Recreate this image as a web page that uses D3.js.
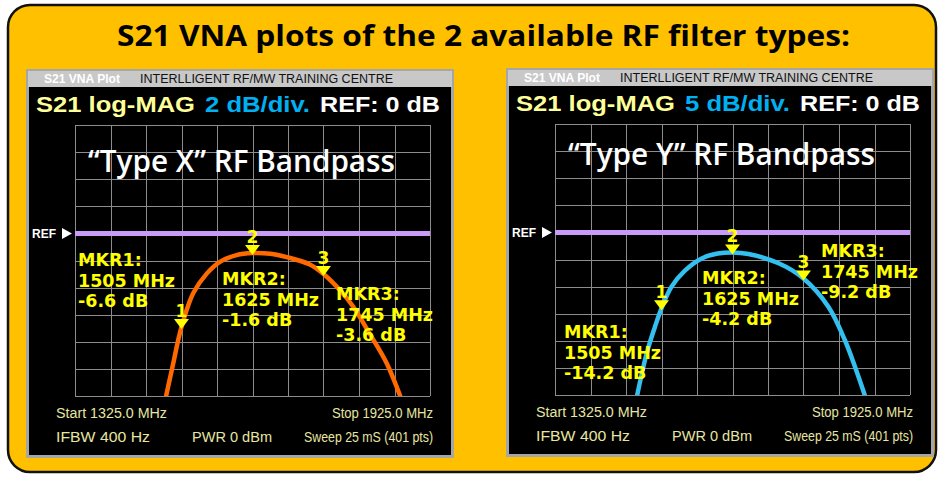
<!DOCTYPE html>
<html>
<head>
<meta charset="utf-8">
<script src="https://cdn.jsdelivr.net/npm/d3@7"></script>
<style>
  html, body { margin: 0; padding: 0; background: #ffffff; }
  svg { display: block; }
</style>
</head>
<body>
<div id="chart"></div>
<script>
const width = 941;
const height = 478;

// ---- data ----
const pageTitle = "S21 VNA plots of the 2 available RF filter types:";
const startMHz = 1325;
const stopMHz = 1925;
const gridFreqs = [1325, 1385, 1445, 1505, 1565, 1625, 1685, 1745, 1805, 1865, 1925];
const markerNames = ["1", "2", "3"];
const markerFreqs = [1505, 1625, 1745];

const typeXGridDb = [8, 6, 4, 2, 0, -2, -4, -6, -8, -10, -12];
const typeXFreqs = [1476, 1490, 1505, 1525, 1548, 1570, 1598, 1625, 1655, 1683, 1722, 1745, 1773, 1795, 1823, 1852, 1878];
const typeXDb = [-12.6, -9.8, -6.9, -4.4, -2.95, -2.1, -1.6, -1.45, -1.5, -1.75, -2.3, -3.0, -4.2, -5.4, -7.4, -9.6, -12.4];
const typeXMarkerDb = [-6.6, -1.6, -3.6];

const typeYGridDb = [20, 15, 10, 5, 0, -5, -10, -15, -20, -25, -30];
const typeYFreqs = [1463, 1480, 1494, 1505, 1522, 1545, 1573, 1600, 1625, 1652, 1703, 1745, 1787, 1815, 1832, 1850];
const typeYDb = [-30.5, -22.3, -17.4, -14.0, -10.0, -7.0, -4.8, -3.9, -3.7, -4.0, -5.7, -8.5, -13.7, -19.9, -24.8, -30.5];
const typeYMarkerDb = [-14.2, -4.2, -9.2];

const footerStart = "Start 1325.0 MHz";
const footerStop = "Stop 1925.0 MHz";
const footerIfbw = "IFBW 400 Hz";
const footerPwr = "PWR 0 dBm";
const footerSweep = "Sweep 25 mS (401 pts)";

// ---- layout ----
const panelW = 428;
const panelH = 389;
const grid = { left: 49, right: 404, top: 56, bottom: 327 };

const panels = [
  {
    id: "x",
    x: 26,
    y: 69,
    scaleText: "2 dB/div.",
    name: "\u201CType X\u201D RF Bandpass",
    nameY: 103,
    gridDb: typeXGridDb,
    freqs: typeXFreqs,
    db: typeXDb,
    markerDb: typeXMarkerDb,
    color: "#ff6a00",
    labelPos: [
      { x: 52, y: 197 },
      { x: 196, y: 216 },
      { x: 310, y: 231 },
    ],
  },
  {
    id: "y",
    x: 506,
    y: 68,
    scaleText: "5 dB/div.",
    name: "\u201CType Y\u201D RF Bandpass",
    nameY: 97,
    gridDb: typeYGridDb,
    freqs: typeYFreqs,
    db: typeYDb,
    markerDb: typeYMarkerDb,
    color: "#33bff0",
    labelPos: [
      { x: 58, y: 270 },
      { x: 196, y: 216 },
      { x: 315, y: 189 },
    ],
  },
];

let svg;

function createChart() {
  createSvg();
  createBackground();
  panels.forEach((p) => createPanel(p));
}

function createSvg() {
  svg = d3
    .select("#chart")
    .append("svg")
    .attr("width", width)
    .attr("height", height);
}

function createBackground() {
  svg
    .append("rect")
    .attr("x", 8)
    .attr("y", 5)
    .attr("width", 928)
    .attr("height", 467)
    .attr("rx", 22)
    .attr("fill", "#ffc000")
    .attr("stroke", "#111")
    .attr("stroke-width", 2.5);

  svg
    .append("text")
    .attr("x", 117)
    .attr("y", 46)
    .attr("textLength", 733)
    .attr("lengthAdjust", "spacingAndGlyphs")
    .style("font-family", "'Open Sans', sans-serif")
    .style("font-weight", 700)
    .style("font-size", "29px")
    .attr("fill", "#000")
    .text(pageTitle);
}

function createPanel(p) {
  const g = svg
    .append("g")
    .attr("transform", `translate(${p.x},${p.y})`);

  // frame, header bar, screen
  g.append("rect")
    .attr("width", panelW)
    .attr("height", panelH)
    .attr("fill", "#a6a6a6");
  g.append("rect")
    .attr("x", 2)
    .attr("y", 2)
    .attr("width", panelW - 4)
    .attr("height", 16)
    .attr("fill", "#c8c8c8");
  g.append("rect")
    .attr("x", 3)
    .attr("y", 18)
    .attr("width", panelW - 6)
    .attr("height", panelH - 21)
    .attr("fill", "#000");

  g.append("text")
    .attr("x", 18)
    .attr("y", 14)
    .attr("textLength", 76)
    .attr("lengthAdjust", "spacingAndGlyphs")
    .style("font-family", "'Liberation Sans', Arial, sans-serif")
    .style("font-weight", 700)
    .style("font-size", "12px")
    .attr("fill", "#ffffff")
    .text("S21 VNA Plot");
  g.append("text")
    .attr("x", 114)
    .attr("y", 14)
    .attr("textLength", 253)
    .attr("lengthAdjust", "spacingAndGlyphs")
    .style("font-family", "'Liberation Sans', Arial, sans-serif")
    .style("font-size", "12px")
    .attr("fill", "#111")
    .text("INTERLLIGENT RF/MW TRAINING CENTRE");

  // headline
  const head = [
    { t: "S21 log-MAG", x: 10, len: 159, c: "#ffff99" },
    { t: p.scaleText, x: 179, len: 105, c: "#00b0f0" },
    { t: "REF: 0 dB", x: 294, len: 120, c: "#ffffff" },
  ];
  g.selectAll(".head")
    .data(head)
    .enter()
    .append("text")
    .classed("head", true)
    .attr("x", (d) => d.x)
    .attr("y", 43)
    .attr("textLength", (d) => d.len)
    .attr("lengthAdjust", "spacingAndGlyphs")
    .style("font-family", "'Liberation Sans', Arial, sans-serif")
    .style("font-weight", 700)
    .style("font-size", "22px")
    .attr("fill", (d) => d.c)
    .text((d) => d.t);

  // scales
  const x = d3
    .scaleLinear()
    .domain([startMHz, stopMHz])
    .range([grid.left, grid.right]);
  const y = d3
    .scaleLinear()
    .domain([d3.min(p.gridDb), d3.max(p.gridDb)])
    .range([grid.bottom, grid.top]);

  // grid
  g.append("g")
    .selectAll("line")
    .data(gridFreqs)
    .enter()
    .append("line")
    .attr("x1", (d) => Math.round(x(d)) + 0.5)
    .attr("x2", (d) => Math.round(x(d)) + 0.5)
    .attr("y1", grid.top)
    .attr("y2", grid.bottom)
    .attr("stroke", "#8c8c8c")
    .attr("stroke-width", 1);
  g.append("g")
    .selectAll("line")
    .data(p.gridDb)
    .enter()
    .append("line")
    .attr("x1", grid.left)
    .attr("x2", grid.right)
    .attr("y1", (d) => Math.round(y(d)) + 0.5)
    .attr("y2", (d) => Math.round(y(d)) + 0.5)
    .attr("stroke", "#8c8c8c")
    .attr("stroke-width", 1);

  // filter name
  g.append("text")
    .attr("x", 62)
    .attr("y", p.nameY)
    .attr("textLength", 307)
    .attr("lengthAdjust", "spacingAndGlyphs")
    .style("font-family", "'Open Sans', sans-serif")
    .style("font-weight", 600)
    .style("font-size", "30px")
    .attr("fill", "#ffffff")
    .text(p.name);

  // reference line
  g.append("line")
    .attr("x1", grid.left)
    .attr("x2", grid.right)
    .attr("y1", y(0))
    .attr("y2", y(0))
    .attr("stroke", "#c89cf6")
    .attr("stroke-width", 5);
  g.append("text")
    .attr("x", 6)
    .attr("y", y(0) + 5)
    .style("font-family", "'Liberation Sans', Arial, sans-serif")
    .style("font-weight", 700)
    .style("font-size", "12px")
    .attr("fill", "#ffffff")
    .text("REF");
  g.append("path")
    .attr("d", `M36,${y(0) - 5.5}L46,${y(0)}L36,${y(0) + 5.5}Z`)
    .attr("fill", "#ffffff");

  // trace
  g.append("clipPath")
    .attr("id", "clip-" + p.id)
    .append("rect")
    .attr("x", grid.left)
    .attr("y", grid.top)
    .attr("width", grid.right - grid.left)
    .attr("height", grid.bottom - grid.top);

  const trace = p.freqs.map((f, i) => ({ f: f, db: p.db[i] }));
  g.append("path")
    .datum(trace)
    .attr("clip-path", `url(#clip-${p.id})`)
    .attr("fill", "none")
    .attr("stroke", p.color)
    .attr("stroke-width", 4.5)
    .attr("d", d3.line().curve(d3.curveCatmullRom).x((d) => x(d.f)).y((d) => y(d.db)));

  // markers
  const markers = markerFreqs.map((f, i) => {
    const onTrace = p.db[p.freqs.indexOf(f)];
    return { name: markerNames[i], f: f, traceDb: onTrace, db: p.markerDb[i], pos: p.labelPos[i] };
  });

  const mk = g.selectAll(".marker").data(markers).enter().append("g").classed("marker", true);
  mk.append("path")
    .attr("d", (d) => {
      const tx = x(d.f);
      const ty = y(d.traceDb) + 2;
      return `M${tx - 7.5},${ty - 10}L${tx + 7.5},${ty - 10}L${tx},${ty}Z`;
    })
    .attr("fill", "#ffff00");
  mk.append("text")
    .attr("x", (d) => x(d.f))
    .attr("y", (d) => y(d.traceDb) - 10)
    .attr("text-anchor", "middle")
    .style("font-family", "'DejaVu Sans', sans-serif")
    .style("font-weight", 700)
    .style("font-size", "17px")
    .attr("fill", "#ffff00")
    .text((d) => d.name);

  const labels = g.selectAll(".mkr-label").data(markers).enter().append("text").classed("mkr-label", true);
  labels
    .selectAll("tspan")
    .data((d) => [
      { t: `MKR${d.name}:`, x: d.pos.x, y: d.pos.y },
      { t: `${d.f} MHz`, x: d.pos.x, y: d.pos.y + 20.5 },
      { t: `${d.db.toFixed(1)} dB`, x: d.pos.x, y: d.pos.y + 41 },
    ])
    .enter()
    .append("tspan")
    .attr("x", (d) => d.x)
    .attr("y", (d) => d.y)
    .style("font-family", "'DejaVu Sans', sans-serif")
    .style("font-weight", 700)
    .style("font-size", "17.5px")
    .attr("fill", "#ffff00")
    .text((d) => d.t);

  // footer
  const foot = [
    { t: footerStart, x: 30, y: 349, len: 111, anchor: "start" },
    { t: footerStop, x: 306, y: 349, len: 101, anchor: "start" },
    { t: footerIfbw, x: 30, y: 373, len: 94, anchor: "start" },
    { t: footerPwr, x: 166, y: 373, len: 80, anchor: "start" },
    { t: footerSweep, x: 278, y: 373, len: 129, anchor: "start" },
  ];
  g.selectAll(".foot")
    .data(foot)
    .enter()
    .append("text")
    .classed("foot", true)
    .attr("x", (d) => d.x)
    .attr("y", (d) => d.y)
    .attr("textLength", (d) => d.len)
    .attr("lengthAdjust", "spacingAndGlyphs")
    .style("font-family", "'Liberation Sans', Arial, sans-serif")
    .style("font-size", "14px")
    .attr("fill", "#e6e6a2")
    .text((d) => d.t);
}

createChart();
</script>
</body>
</html>
